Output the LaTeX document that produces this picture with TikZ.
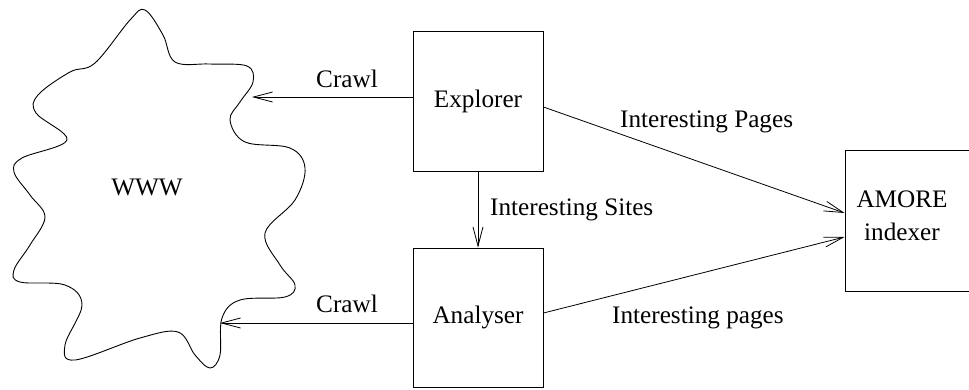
\documentclass[tikz,border=0pt]{standalone}
\usepackage{fontspec}
\setmainfont{Liberation Serif}
\usetikzlibrary{arrows.meta}
\begin{document}
\begin{tikzpicture}[x=1pt,y=-1pt,
  every node/.style={font=\fontsize{25.2}{33}\selectfont},
  box/.style={draw,line width=0.9pt,minimum width=130pt,inner sep=0pt},
  lbl/.style={anchor=base west,inner sep=0pt},
  arr/.style={line width=0.8pt,-{Straight Barb[length=19pt,width=10pt,line width=0.8pt]}}]
\clip (0,0) rectangle (969,389);
\useasboundingbox (0,0) rectangle (969,389);
% WWW cloud
\draw[line width=0.9pt] plot[smooth cycle,tension=0.6] coordinates {
(145,10) (163,35) (175,62) (210,64) (247,66) (253,82) (240,102) (230,120)
(245,142) (290,148) (305,168) (295,200) (265,233) (280,265) (295,285)
(285,297) (240,300) (222,318) (220,355) (210,368) (195,355) (178,332)
(140,338) (75,360) (65,345) (82,305) (65,285) (20,282) (14,270) (30,245)
(45,217) (30,195) (14,172) (22,158) (67,140) (36,113) (38,95) (70,72)
(95,63) (130,20)};
\node (www) at (147,187) {WWW};
% boxes
\node[box,minimum height=140pt] (explorer) at (478,101) {Explorer};
\node[box,minimum height=139pt] (analyser) at (478,317.5) {Analyser};
\node[box,minimum width=145pt,minimum height=141pt] (amore) at (917.5,220.5) {};
\node[align=center,inner sep=0pt] (amoretext) at (902,216) {AMORE\\indexer};
% free ends
\coordinate (crawlA) at (252,97);
\coordinate (crawlB) at (220,323);
% connectors
\draw[arr] ([yshift=4pt]explorer.west) -- (crawlA);
\draw[arr] ([yshift=-5.5pt]analyser.west) -- (crawlB);
\draw[arr] (explorer.south) -- (analyser.north);
\draw[arr] ([yshift=-6pt]explorer.east) -- ([yshift=7.5pt]amore.west);
\draw[arr] ([yshift=4.5pt]analyser.east) -- ([yshift=-16.5pt]amore.west);
% labels
\node[anchor=base,inner sep=0pt] (lcrawlA) at (347,87) {Crawl};
\node[anchor=base,inner sep=0pt] (lcrawlB) at (347,312) {Crawl};
\node[lbl] (lsites) at (490,215) {Interesting Sites};
\node[lbl] (lpagesA) at (620,127) {Interesting Pages};
\node[lbl] (lpagesB) at (612,323) {Interesting pages};
\end{tikzpicture}
\end{document}
